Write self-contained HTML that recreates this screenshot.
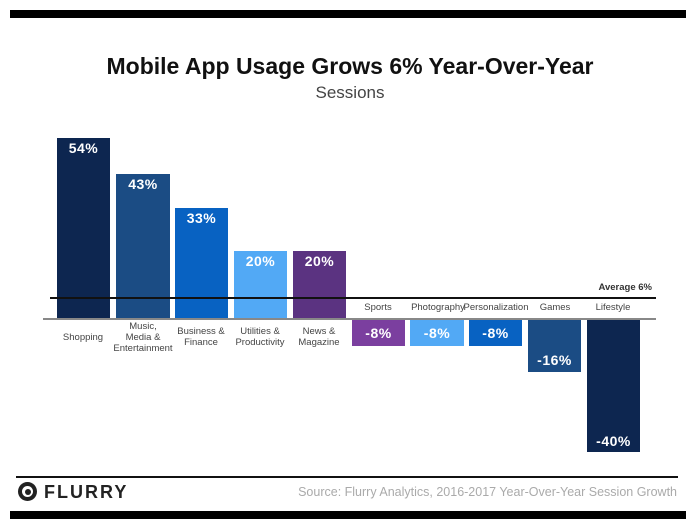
<!DOCTYPE html>
<html><head><meta charset="utf-8"><style>
body{margin:0;width:700px;height:526px;background:#fff;position:relative;overflow:hidden;font-family:"Liberation Sans",sans-serif}
.a{position:absolute}
.bar{position:absolute;color:#fff;font-size:14px;font-weight:bold;text-align:center;box-sizing:border-box;letter-spacing:0.5px}
.lab{position:absolute;font-size:9.5px;color:#444;text-align:center;line-height:11px;width:74px}
</style></head><body>
<div class="a" style="left:10px;top:10px;width:676px;height:8px;background:#000"></div>
<div class="a" style="left:0;top:53px;width:700px;text-align:center;font-size:23px;font-weight:bold;color:#111">Mobile App Usage Grows 6% Year-Over-Year</div>
<div class="a" style="left:0;top:83px;width:700px;text-align:center;font-size:17px;color:#444">Sessions</div>

<div class="bar" style="left:57px;top:138px;width:53px;height:181px;background:#0d2650;padding-top:2px">54%</div>
<div class="bar" style="left:116px;top:174px;width:54px;height:145px;background:#1b4c84;padding-top:2px">43%</div>
<div class="bar" style="left:175px;top:208px;width:53px;height:111px;background:#0862c2;padding-top:2px">33%</div>
<div class="bar" style="left:234px;top:251px;width:53px;height:68px;background:#52a9f5;padding-top:2px">20%</div>
<div class="bar" style="left:293px;top:251px;width:53px;height:68px;background:#5b3381;padding-top:2px">20%</div>

<div class="bar" style="left:352px;top:319px;width:53px;height:27px;background:#7b3f9f;padding-top:6px">-8%</div>
<div class="bar" style="left:410px;top:319px;width:54px;height:27px;background:#52a9f5;padding-top:6px">-8%</div>
<div class="bar" style="left:469px;top:319px;width:53px;height:27px;background:#0862c2;padding-top:6px">-8%</div>
<div class="bar" style="left:528px;top:319px;width:53px;height:53px;background:#1b4c84;padding-top:33px">-16%</div>
<div class="bar" style="left:587px;top:319px;width:53px;height:133px;background:#0d2650;padding-top:114px">-40%</div>

<div class="a" style="left:43px;top:318px;width:613px;height:1.5px;background:#888"></div>
<div class="a" style="left:50px;top:297px;width:606px;height:2px;background:#111"></div>
<div class="a" style="left:560px;top:282px;width:92px;text-align:right;font-size:9.5px;font-weight:bold;color:#333">Average 6%</div>

<div class="lab" style="left:46px;top:332px">Shopping</div>
<div class="lab" style="left:106px;top:321px">Music,<br>Media &amp;<br>Entertainment</div>
<div class="lab" style="left:164px;top:326px">Business &amp;<br>Finance</div>
<div class="lab" style="left:223px;top:326px">Utilities &amp;<br>Productivity</div>
<div class="lab" style="left:282px;top:326px">News &amp;<br>Magazine</div>
<div class="lab" style="left:341px;top:302px">Sports</div>
<div class="lab" style="left:401px;top:302px">Photography</div>
<div class="lab" style="left:459px;top:302px">Personalization</div>
<div class="lab" style="left:518px;top:302px">Games</div>
<div class="lab" style="left:576px;top:302px">Lifestyle</div>

<div class="a" style="left:16px;top:476px;width:662px;height:2px;background:#111"></div>
<div class="a" style="left:18px;top:482px;width:19px;height:19px;border-radius:50%;background:#222"></div>
<div class="a" style="left:22px;top:486px;width:11px;height:11px;border-radius:50%;background:#fff"></div>
<div class="a" style="left:25px;top:489px;width:6px;height:6px;border-radius:50%;background:#222"></div>
<div class="a" style="left:44px;top:482px;font-size:18px;font-weight:bold;letter-spacing:2px;color:#222">FLURRY</div>
<div class="a" style="left:240px;top:485px;width:437px;text-align:right;font-size:12.5px;color:#aaa">Source: Flurry Analytics, 2016-2017 Year-Over-Year Session Growth</div>
<div class="a" style="left:10px;top:511px;width:676px;height:8px;background:#000"></div>
</body></html>
